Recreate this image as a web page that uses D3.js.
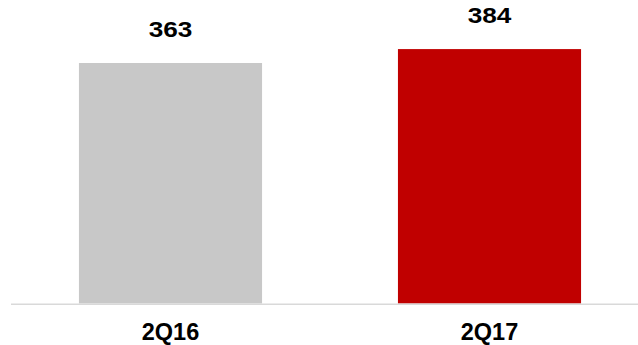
<!DOCTYPE html>
<html>
<head>
<meta charset="utf-8">
<script src="https://cdn.jsdelivr.net/npm/d3@7/dist/d3.min.js"></script>
<style>
  html, body { margin: 0; padding: 0; background: #fff; }
  svg { display: block; }
</style>
</head>
<body>
<svg id="chart" width="638" height="345"></svg>
<script>
// Quarterly totals
const categories = ["2Q16", "2Q17"];
const values = [363, 384];
const barColors = ["#c8c8c8", "#c00000"];

const width = 638, height = 345;
const svg = d3.select("#chart");

const baseY = 303.5;
const x = d3.scaleBand()
  .domain(categories)
  .range([11, 649])
  .paddingInner(0.426)
  .paddingOuter(0.213);

const y = d3.scaleLinear()
  .domain([0, 363])
  .range([baseY, 63]);

// Bars
svg.selectAll("rect.bar")
  .data(values)
  .join("rect")
  .attr("class", "bar")
  .attr("x", (d, i) => x(categories[i]))
  .attr("width", x.bandwidth())
  .attr("y", d => y(d))
  .attr("height", d => baseY - y(d))
  .attr("fill", (d, i) => barColors[i]);

// Baseline
svg.append("line")
  .attr("x1", 11).attr("x2", width)
  .attr("y1", baseY + 0.8).attr("y2", baseY + 0.8)
  .attr("stroke", "#d9d9d9")
  .attr("stroke-width", 1.6);

// Value labels above bars
svg.selectAll("text.value")
  .data(values)
  .join("text")
  .attr("class", "value")
  .attr("transform", (d, i) => {
    const cx = x(categories[i]) + x.bandwidth() / 2;
    return `translate(${cx},${y(d) - 25.8}) scale(1.17,1)`;
  })
  .attr("text-anchor", "middle")
  .attr("font-family", "Liberation Sans, Arial, sans-serif")
  .attr("font-weight", "bold")
  .attr("font-size", "22.4px")
  .attr("fill", "#000")
  .text(d => d);

// Category labels
svg.selectAll("text.cat")
  .data(categories)
  .join("text")
  .attr("class", "cat")
  .attr("x", d => x(d) + x.bandwidth() / 2)
  .attr("y", 340)
  .attr("text-anchor", "middle")
  .attr("font-family", "Liberation Sans, Arial, sans-serif")
  .attr("font-weight", "bold")
  .attr("font-size", "23.5px")
  .attr("fill", "#000")
  .text(d => d);
</script>
</body>
</html>
